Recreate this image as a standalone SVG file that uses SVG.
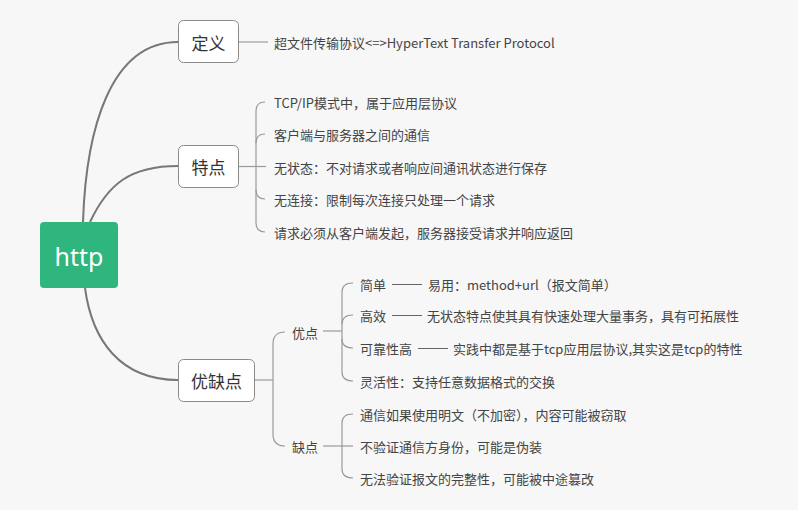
<svg xmlns="http://www.w3.org/2000/svg" width="798" height="510" viewBox="0 0 798 510">
<style>
.bg{fill:#f7f7f7}
.node{fill:#ffffff;stroke:#8a8a8a;stroke-width:1}
.root{fill:#2fb67e}
.ntext{font-family:"Noto Sans CJK SC","Noto Sans",sans-serif;font-size:17px;fill:#333333}
.rtext{font-family:"Noto Sans","Noto Sans CJK SC",sans-serif;font-size:25px;fill:#ffffff}
.t{font-family:"Noto Sans CJK SC","Noto Sans",sans-serif;font-size:13px;fill:#444444}
.main{fill:none;stroke:#777777;stroke-width:2}
.br{fill:none;stroke:#9a9a9a;stroke-width:1.2}
.dash{fill:none;stroke:#666666;stroke-width:1}
</style>
<rect class="bg" x="0" y="0" width="798" height="510"/>
<g id="connectors">
  <path class="main" d="M83,222 C86,130 110,42 178,42"/>
  <path class="main" d="M90,222 C108,184 130,166 178,166"/>
  <path class="main" d="M85,288 C92,340 120,380 178,380"/>
  <path class="br" d="M238,42 L268,42"/>
  <path class="br" d="M238,166.5 L266,166.5"/>
  <path class="br" d="M265,102 Q256,102 256,111 L256,223 Q256,232 265,232"/>
  <path class="br" d="M256,143 Q256,134 265,134"/>
  <path class="br" d="M256,190 Q256,199 265,199"/>
  <path class="br" d="M254,380 L273,380"/>
  <path class="br" d="M285,332 Q273,332 273,344 L273,434 Q273,446 285,446"/>
  <path class="br" d="M323,331 L342,331"/>
  <path class="br" d="M353,283 Q342,283 342,292 L342,372 Q342,381 353,381"/>
  <path class="br" d="M342,324 Q342,315 353,315"/>
  <path class="br" d="M342,339 Q342,348 353,348"/>
  <path class="br" d="M323,446 L353,446"/>
  <path class="br" d="M353,414 Q342,414 342,423 L342,469 Q342,478 353,478"/>
  <path class="dash" d="M392,284.5 L422,284.5"/>
  <path class="dash" d="M392,315.5 L422,315.5"/>
  <path class="dash" d="M418,348.5 L448,348.5"/>
</g>
<g id="root">
  <rect class="root" x="40" y="222" width="78" height="66" rx="4"/>
  <text class="rtext" x="79" y="256" text-anchor="middle" dominant-baseline="central">http</text>
</g>
<g id="n-def">
  <rect class="node" x="178.5" y="20.5" width="60" height="42" rx="5"/>
  <text class="ntext" x="208.5" y="42" text-anchor="middle" dominant-baseline="central">定义</text>
</g>
<g id="n-feat">
  <rect class="node" x="178.5" y="145.5" width="60" height="42" rx="5"/>
  <text class="ntext" x="208.5" y="166.5" text-anchor="middle" dominant-baseline="central">特点</text>
</g>
<g id="n-pc">
  <rect class="node" x="178.5" y="359.5" width="76" height="42" rx="5"/>
  <text class="ntext" x="216.5" y="380.5" text-anchor="middle" dominant-baseline="central">优缺点</text>
</g>
<g id="def-items">
  <text class="t" x="274" y="42" dominant-baseline="central">超文件传输协议&lt;=&gt;HyperText Transfer Protocol</text>
</g>
<g id="feat-items">
  <text class="t" x="274" y="102" dominant-baseline="central">TCP/IP模式中，属于应用层协议</text>
  <text class="t" x="274" y="134" dominant-baseline="central">客户端与服务器之间的通信</text>
  <text class="t" x="274" y="167" dominant-baseline="central">无状态：不对请求或者响应间通讯状态进行保存</text>
  <text class="t" x="274" y="199" dominant-baseline="central">无连接：限制每次连接只处理一个请求</text>
  <text class="t" x="274" y="232" dominant-baseline="central">请求必须从客户端发起，服务器接受请求并响应返回</text>
</g>
<g id="pro">
  <text class="t" x="292" y="332" dominant-baseline="central">优点</text>
  <text class="t" x="360" y="284" dominant-baseline="central">简单</text>
  <text class="t" x="428" y="284" dominant-baseline="central">易用：method+url（报文简单）</text>
  <text class="t" x="360" y="315" dominant-baseline="central">高效</text>
  <text class="t" x="427" y="315" dominant-baseline="central">无状态特点使其具有快速处理大量事务，具有可拓展性</text>
  <text class="t" x="360" y="348" dominant-baseline="central">可靠性高</text>
  <text class="t" x="453" y="348" dominant-baseline="central">实践中都是基于tcp应用层协议,其实这是tcp的特性</text>
  <text class="t" x="360" y="381" dominant-baseline="central">灵活性：支持任意数据格式的交换</text>
</g>
<g id="con">
  <text class="t" x="292" y="446" dominant-baseline="central">缺点</text>
  <text class="t" x="360" y="414" dominant-baseline="central">通信如果使用明文（不加密），内容可能被窃取</text>
  <text class="t" x="360" y="446" dominant-baseline="central">不验证通信方身份，可能是伪装</text>
  <text class="t" x="360" y="478" dominant-baseline="central">无法验证报文的完整性，可能被中途篡改</text>
</g>
</svg>
